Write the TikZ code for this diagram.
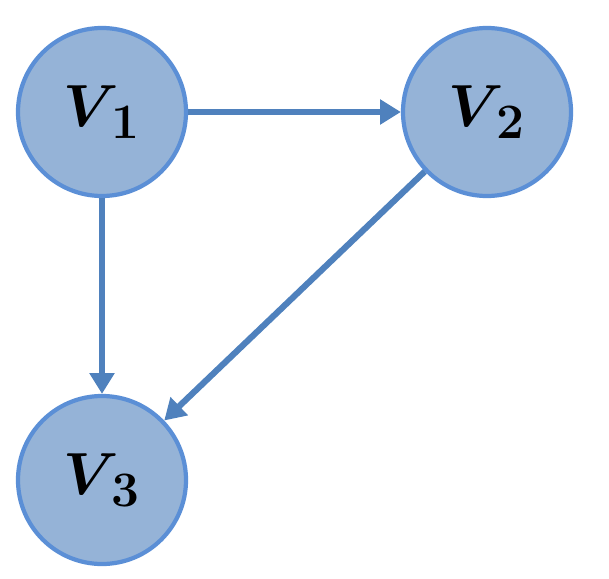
\documentclass[tikz,border=0pt]{standalone}
\usepackage{amsmath,amssymb,bm}
\usepackage{graphicx}
\usepackage{xcolor}
\usepackage{tikz}
\usetikzlibrary{arrows.meta}
\definecolor{VXFill}{HTML}{95B3D7}
\definecolor{VXLine}{HTML}{5B8FD6}
\definecolor{VXArrow}{HTML}{4F81BD}
\newcommand{\vxlabel}[1]{\scalebox{1.7}{\Huge$\bm{V}_{\,\mathbf{#1}}$}}

\tikzset{
  vertex/.style={circle,fill=VXFill,draw=VXLine,line width=3pt,minimum size=4.2cm,inner sep=0pt},
  edge/.style={VXArrow,line width=4.4pt,-{Triangle[length=0.52cm,width=0.6cm]}}
}

\begin{document}
\begin{tikzpicture}[x=1cm,y=1cm]
\path[use as bounding box] (0,0) rectangle (15.225,14.45);
\node[vertex] (v1) at (2.55,11.65) {\vxlabel{1}};
\node[vertex] (v2) at (12.175,11.65) {\vxlabel{2}};
\node[vertex] (v3) at (2.55,2.45) {\vxlabel{3}};
\draw[edge] (v1) -- (v2);
\draw[edge] (v1) -- (v3);
\draw[edge] (v2) -- (v3);
\end{tikzpicture}
\end{document}
